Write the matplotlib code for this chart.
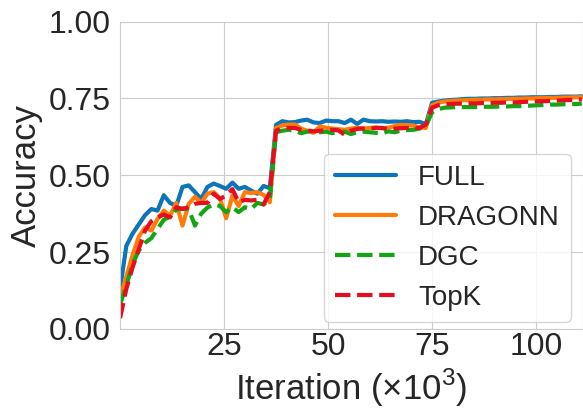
import numpy as np
import matplotlib
matplotlib.use('Agg')
import matplotlib.pyplot as plt
import seaborn as sns

# iterations in thousands, one sample every 1.5k steps
iteration = np.arange(75) * 1.5

full = [0.13, 0.27, 0.31, 0.34, 0.37, 0.39, 0.385, 0.435, 0.41, 0.40,
        0.462, 0.467, 0.445, 0.423, 0.462, 0.473, 0.465, 0.456, 0.476, 0.456,
        0.462, 0.45, 0.44, 0.465, 0.458, 0.664, 0.676, 0.672, 0.673, 0.678,
        0.681, 0.672, 0.67, 0.678, 0.676, 0.676, 0.67, 0.681, 0.667, 0.681,
        0.676, 0.675, 0.676, 0.674, 0.675, 0.674, 0.676, 0.673, 0.674, 0.666,
        0.736, 0.74, 0.743, 0.745, 0.746, 0.748, 0.749, 0.749, 0.75, 0.75,
        0.751, 0.751, 0.752, 0.752, 0.753, 0.753, 0.754, 0.754, 0.754, 0.755,
        0.755, 0.756, 0.756, 0.756, 0.757]

dragonn = [0.10, 0.17, 0.24, 0.30, 0.33, 0.32, 0.357, 0.385, 0.368, 0.41,
           0.336, 0.407, 0.43, 0.41, 0.44, 0.445, 0.425, 0.36, 0.434, 0.40,
           0.445, 0.442, 0.445, 0.436, 0.412, 0.654, 0.662, 0.665, 0.665, 0.652,
           0.645, 0.638, 0.659, 0.655, 0.652, 0.65, 0.648, 0.652, 0.655, 0.652,
           0.654, 0.656, 0.653, 0.655, 0.66, 0.664, 0.663, 0.662, 0.656, 0.654,
           0.728, 0.736, 0.74, 0.742, 0.743, 0.744, 0.745, 0.746, 0.746, 0.747,
           0.747, 0.748, 0.748, 0.749, 0.749, 0.75, 0.75, 0.751, 0.751, 0.752,
           0.752, 0.753, 0.753, 0.754, 0.754]

dgc = [0.08, 0.14, 0.21, 0.255, 0.28, 0.295, 0.325, 0.355, 0.365, 0.388,
       0.392, 0.39, 0.336, 0.375, 0.395, 0.405, 0.40, 0.38, 0.396, 0.38,
       0.396, 0.39, 0.41, 0.405, 0.423, 0.64, 0.645, 0.648, 0.645, 0.637,
       0.642, 0.645, 0.64, 0.642, 0.637, 0.64, 0.642, 0.634, 0.64, 0.642,
       0.64, 0.638, 0.637, 0.643, 0.64, 0.645, 0.647, 0.648, 0.652, 0.66,
       0.705, 0.715, 0.72, 0.721, 0.722, 0.722, 0.722, 0.722, 0.723, 0.723,
       0.723, 0.724, 0.724, 0.725, 0.725, 0.726, 0.727, 0.728, 0.729, 0.73,
       0.73, 0.731, 0.732, 0.732, 0.733]

topk = [0.035, 0.13, 0.20, 0.26, 0.32, 0.35, 0.363, 0.372, 0.363, 0.396,
        0.39, 0.396, 0.407, 0.41, 0.41, 0.44, 0.423, 0.434, 0.455, 0.412,
        0.42, 0.418, 0.42, 0.405, 0.445, 0.645, 0.654, 0.654, 0.654, 0.648,
        0.646, 0.643, 0.645, 0.646, 0.648, 0.646, 0.632, 0.645, 0.651, 0.652,
        0.652, 0.654, 0.654, 0.65, 0.652, 0.653, 0.654, 0.654, 0.654, 0.665,
        0.72, 0.728, 0.731, 0.732, 0.733, 0.733, 0.734, 0.734, 0.735, 0.735,
        0.736, 0.736, 0.737, 0.737, 0.738, 0.739, 0.74, 0.741, 0.741, 0.742,
        0.743, 0.744, 0.745, 0.746, 0.747]

sns.set_style('whitegrid')
plt.rcParams['font.family'] = ['Liberation Sans', 'DejaVu Sans']
plt.rcParams['mathtext.fontset'] = 'custom'
plt.rcParams['mathtext.rm'] = 'Liberation Sans'

fig = plt.figure(figsize=(5.83, 4.09), dpi=100)
ax = fig.add_axes([0.206, 0.196, 0.794, 0.751])

ax.plot(iteration, full, color='#0c74b8', lw=3, label='FULL')
ax.plot(iteration, dragonn, color='#ff7b0a', lw=3, label='DRAGONN')
ax.plot(iteration, dgc, color='#14a514', lw=3, ls='--', label='DGC')
ax.plot(iteration, topk, color='#e60d1f', lw=3, ls='--', label='TopK')

ax.set_xlim(0, 111.3)
ax.set_ylim(0, 1)
ax.set_xticks([25, 50, 75, 100])
ax.set_yticks([0, 0.25, 0.5, 0.75, 1.0])
ax.tick_params(labelsize=23)
ax.tick_params(axis='x', pad=-1.5)
ax.set_xlabel(r'Iteration ($\times10^3$)', fontsize=25, labelpad=4)
ax.set_ylabel('Accuracy', fontsize=25, labelpad=4)

ax.legend(loc='lower right', fontsize=20, handlelength=2.2,
          borderaxespad=0, bbox_to_anchor=(0.974, 0.023))

fig.savefig('out.png', dpi=100)
